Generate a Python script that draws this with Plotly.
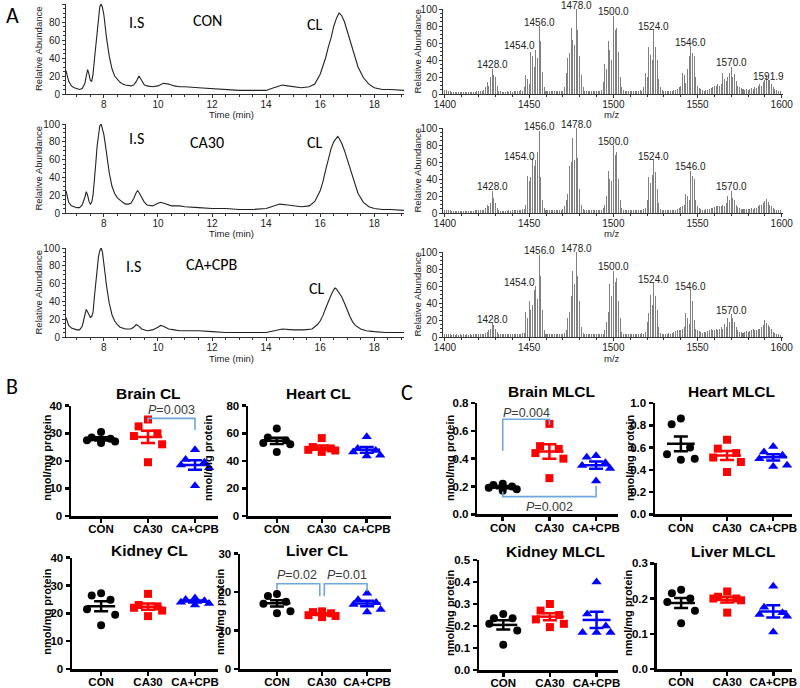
import numpy as np
import plotly.graph_objects as go

# ---------------- DATA ----------------
groups = ["CON", "CA30", "CA+CPB"]

# Chromatograms (time min, relative abundance)
chrom_con = [(6.6, 26), (6.65, 20), (6.7, 14), (6.8, 9), (6.9, 7), (7.0, 6), (7.1, 5), (7.2, 6), (7.3, 12), (7.35, 20),
             (7.4, 27), (7.45, 22), (7.5, 15), (7.55, 14), (7.6, 22), (7.65, 38), (7.7, 55), (7.75, 72), (7.8, 88),
             (7.85, 97), (7.9, 100), (7.95, 96), (8.0, 88), (8.05, 74), (8.1, 62), (8.2, 42), (8.3, 28), (8.4, 20),
             (8.5, 16), (8.6, 13), (8.7, 11), (8.8, 10), (9.0, 9), (9.1, 10), (9.2, 14), (9.3, 20), (9.4, 15), (9.5, 10),
             (9.6, 9), (9.8, 8), (10.0, 9), (10.2, 12), (10.4, 11), (10.6, 9), (10.8, 8), (11.0, 8), (11.5, 7), (12.0, 6),
             (12.5, 5), (13.0, 4), (13.5, 4), (14.0, 4), (14.2, 6), (14.4, 8), (14.6, 10), (14.8, 9), (15.0, 8), (15.3, 7),
             (15.6, 8), (15.8, 11), (16.0, 22), (16.1, 30), (16.2, 40), (16.3, 52), (16.4, 62), (16.5, 75), (16.6, 84),
             (16.7, 90), (16.8, 87), (16.9, 80), (17.0, 70), (17.1, 60), (17.2, 50), (17.3, 40), (17.4, 30), (17.6, 18),
             (17.8, 11), (18.0, 7), (18.3, 5), (18.6, 5), (19.0, 4), (19.1, 4)]
chrom_ca30 = [(6.6, 25), (6.65, 18), (6.7, 12), (6.8, 8), (6.9, 7), (7.0, 6), (7.1, 6), (7.2, 9), (7.3, 18), (7.35, 24),
              (7.4, 20), (7.45, 13), (7.5, 10), (7.55, 12), (7.6, 20), (7.65, 35), (7.7, 55), (7.75, 75), (7.8, 90),
              (7.85, 98), (7.9, 100), (7.95, 95), (8.0, 88), (8.05, 78), (8.1, 65), (8.2, 45), (8.3, 30), (8.4, 22),
              (8.5, 17), (8.6, 14), (8.7, 12), (8.8, 10), (8.9, 10), (9.0, 11), (9.1, 16), (9.2, 23), (9.25, 25),
              (9.3, 23), (9.4, 17), (9.5, 12), (9.6, 9), (9.8, 8), (10.0, 11), (10.1, 12), (10.3, 10), (10.5, 8),
              (10.8, 8), (11.0, 7), (11.5, 6), (12.0, 5), (12.5, 5), (13.0, 4), (13.5, 4), (14.0, 5), (14.2, 7),
              (14.5, 10), (14.8, 9), (15.0, 8), (15.3, 7), (15.6, 8), (15.8, 13), (16.0, 25), (16.1, 35), (16.2, 48),
              (16.3, 60), (16.4, 72), (16.5, 80), (16.6, 85), (16.65, 86), (16.7, 84), (16.8, 78), (16.9, 70), (17.0, 60),
              (17.1, 50), (17.2, 40), (17.3, 30), (17.4, 22), (17.6, 12), (17.8, 7), (18.0, 5), (18.3, 4), (18.6, 4),
              (19.0, 3), (19.1, 3)]
chrom_cpb = [(6.6, 22), (6.65, 18), (6.7, 13), (6.8, 10), (6.9, 9), (7.0, 8), (7.1, 8), (7.2, 12), (7.3, 25), (7.35, 31),
             (7.4, 28), (7.45, 24), (7.5, 22), (7.55, 23), (7.6, 28), (7.65, 45), (7.7, 62), (7.75, 78), (7.8, 90),
             (7.85, 97), (7.9, 100), (7.95, 95), (8.0, 85), (8.05, 70), (8.1, 57), (8.2, 38), (8.3, 25), (8.4, 18),
             (8.5, 14), (8.6, 11), (8.8, 9), (9.0, 9), (9.1, 11), (9.2, 14), (9.3, 12), (9.4, 9), (9.6, 7), (9.8, 8),
             (10.0, 11), (10.1, 13), (10.2, 12), (10.4, 9), (10.6, 8), (10.8, 7), (11.0, 7), (11.5, 7), (12.0, 6),
             (12.5, 5), (13.0, 5), (13.5, 5), (14.0, 5), (14.3, 7), (14.6, 9), (15.0, 8), (15.4, 8), (15.7, 9),
             (15.9, 14), (16.0, 18), (16.1, 24), (16.2, 32), (16.3, 40), (16.4, 47), (16.5, 53), (16.55, 55), (16.6, 54),
             (16.7, 50), (16.8, 45), (16.9, 38), (17.0, 30), (17.1, 23), (17.2, 17), (17.3, 13), (17.5, 9), (17.7, 7),
             (18.0, 6), (18.4, 5), (18.8, 5), (19.1, 5)]

# Mass spectra: m/z 1400..1599, relative abundance
spec_mz = list(range(1400, 1600))
spec_con = [5, 5, 4, 3, 2, 2, 2, 2, 2, 2,   2, 2, 2, 2, 2, 2, 2, 2, 2, 3,
            3, 3, 4, 5, 8, 14, 10, 20, 30, 22,   20, 10, 4, 3, 2, 2, 2, 3, 2, 3,
            2, 3, 3, 4, 4, 5, 4, 8, 22, 18,   12, 50, 45, 32, 52, 42, 80, 62, 26, 8,
            4, 3, 3, 3, 4, 3, 3, 4, 3, 4,   3, 8, 25, 42, 48, 78, 63, 58, 100, 75,
            45, 22, 8, 4, 3, 3, 4, 3, 3, 4,   3, 4, 3, 5, 14, 35, 30, 62, 52, 40,
            92, 75, 78, 50, 20, 8, 5, 4, 4, 3,   4, 3, 4, 3, 4, 3, 5, 4, 8, 25,
            20, 55, 46, 40, 75, 55, 40, 18, 8, 5,   4, 3, 4, 4, 3, 4, 5, 5, 6, 8,
            10, 25, 22, 13, 30, 45, 56, 48, 45, 20,   10, 7, 6, 5, 4, 5, 5, 6, 7, 8,
            9, 10, 12, 10, 12, 25, 18, 15, 20, 25,   32, 20, 23, 15, 10, 8, 7, 6, 5, 6,
            5, 6, 7, 6, 8, 7, 10, 12, 10, 14,   16, 22, 16, 16, 12, 8, 6, 5, 4, 3]
spec_ca30 = [4, 4, 3, 3, 2, 2, 2, 2, 2, 2,   2, 2, 2, 2, 2, 2, 2, 2, 3, 3,
             3, 3, 3, 4, 6, 10, 8, 12, 26, 18,   12, 6, 3, 2, 2, 2, 2, 2, 3, 2,
             3, 3, 3, 3, 4, 4, 5, 5, 10, 44,   38, 42, 65, 55, 62, 72, 97, 42, 15, 6,
             4, 3, 3, 3, 3, 3, 4, 3, 4, 4,   5, 8, 15, 22, 55, 60, 88, 62, 100, 65,
             28, 10, 5, 4, 3, 3, 3, 4, 3, 3,   3, 3, 4, 4, 6, 10, 20, 50, 40, 38,
             80, 68, 72, 40, 15, 6, 4, 3, 3, 3,   3, 3, 3, 3, 4, 3, 4, 4, 5, 6,
             15, 42, 35, 45, 62, 48, 28, 12, 5, 4,   3, 3, 3, 3, 4, 3, 4, 4, 5, 6,
             7, 8, 10, 22, 20, 15, 50, 44, 40, 15,   8, 6, 5, 4, 4, 5, 5, 5, 6, 6,
             7, 8, 8, 8, 8, 10, 8, 12, 20, 15,   26, 18, 15, 10, 7, 6, 5, 5, 5, 5,
             5, 5, 6, 5, 6, 6, 8, 10, 9, 12,   14, 16, 13, 10, 8, 6, 5, 4, 3, 3]
spec_cpb = [3, 3, 3, 3, 2, 3, 2, 3, 2, 3,   2, 3, 2, 3, 2, 3, 2, 3, 3, 3,
            3, 3, 4, 4, 5, 6, 8, 10, 16, 14,   10, 6, 4, 3, 3, 3, 3, 3, 3, 3,
            3, 3, 3, 3, 4, 4, 5, 5, 30, 22,   42, 32, 38, 55, 60, 45, 97, 72, 32, 8,
            4, 3, 3, 3, 3, 4, 3, 3, 4, 4,   4, 5, 8, 22, 30, 48, 78, 62, 100, 72,
            42, 12, 5, 4, 3, 3, 3, 3, 4, 3,   3, 4, 3, 4, 4, 8, 18, 30, 62, 48,
            78, 65, 70, 42, 22, 6, 4, 3, 4, 3,   3, 4, 3, 4, 3, 4, 4, 5, 4, 6,
            18, 28, 50, 38, 63, 48, 32, 12, 5, 4,   3, 4, 4, 5, 4, 5, 6, 7, 8, 8,
            8, 10, 12, 28, 22, 15, 55, 42, 20, 10,   8, 7, 6, 5, 6, 6, 7, 8, 9, 8,
            8, 9, 8, 10, 12, 10, 15, 12, 22, 18,   27, 22, 18, 12, 8, 6, 6, 5, 6, 7,
            6, 7, 8, 9, 8, 8, 10, 9, 12, 14,   20, 17, 14, 12, 9, 6, 5, 4, 3, 2]
peaks_con = [1428.0, 1454.0, 1456.0, 1478.0, 1500.0, 1524.0, 1546.0, 1570.0, 1591.9]
peaks_ca30 = [1428.0, 1454.0, 1456.0, 1478.0, 1500.0, 1524.0, 1546.0, 1570.0]
peaks_cpb = [1428.0, 1454.0, 1456.0, 1478.0, 1500.0, 1524.0, 1546.0, 1570.0]

# Dot plots (nmol/mg protein)
brain_cl_con = [30.5, 28.5, 28.0, 27.5, 27.0, 26.5]
brain_cl_ca30 = [35.0, 32.5, 30.0, 29.0, 26.0, 19.5]
brain_cl_cpb = [24.0, 20.5, 19.5, 18.5, 17.5, 11.0]
heart_cl_con = [63.5, 57.0, 55.0, 53.0, 52.0, 46.5]
heart_cl_ca30 = [56.5, 50.0, 49.0, 48.0, 47.5, 46.5]
heart_cl_cpb = [57.5, 49.0, 47.5, 46.5, 44.0, 43.5]
kidney_cl_con = [27.2, 26.4, 24.9, 21.5, 19.5, 15.7]
kidney_cl_ca30 = [27.0, 23.0, 22.5, 22.0, 21.0, 19.0]
kidney_cl_cpb = [25.5, 25.0, 24.5, 24.0, 23.5, 23.0]
liver_cl_con = [19.5, 19.0, 17.5, 17.0, 15.0, 14.5]
liver_cl_ca30 = [15.0, 14.8, 14.5, 14.0, 13.8, 13.5]
liver_cl_cpb = [19.7, 18.0, 17.3, 16.8, 15.5, 14.8]
brain_mlcl_con = [0.22, 0.21, 0.20, 0.19, 0.18, 0.17]
brain_mlcl_ca30 = [0.65, 0.49, 0.47, 0.44, 0.40, 0.26]
brain_mlcl_cpb = [0.42, 0.41, 0.37, 0.35, 0.33, 0.24]
heart_mlcl_con = [0.86, 0.81, 0.60, 0.54, 0.50, 0.49]
heart_mlcl_ca30 = [0.67, 0.59, 0.55, 0.51, 0.47, 0.38]
heart_mlcl_cpb = [0.61, 0.56, 0.53, 0.50, 0.44, 0.43]
kidney_mlcl_con = [0.255, 0.235, 0.235, 0.21, 0.18, 0.115]
kidney_mlcl_ca30 = [0.30, 0.27, 0.25, 0.23, 0.21, 0.195]
kidney_mlcl_cpb = [0.40, 0.255, 0.20, 0.17, 0.17, 0.17]
liver_mlcl_con = [0.225, 0.215, 0.20, 0.19, 0.165, 0.13]
liver_mlcl_ca30 = [0.22, 0.205, 0.20, 0.20, 0.195, 0.16]
liver_mlcl_cpb = [0.235, 0.175, 0.16, 0.155, 0.15, 0.105]

# ---------------- STYLE / LAYOUT ----------------
W, H = 800, 688
FONT = "Arial, Liberation Sans, sans-serif"
CAL = "Carlito, Lato, Open Sans, sans-serif"
GCOL = ["black", "#ff0000", "#0000ff"]
GSYM = ["circle", "square", "triangle-up"]
GSIZE = [8, 8, 9]
JITTER = [0.0, -0.2, 0.2, -0.3, 0.3, 0.0]
BRACKET = "#6fa8dc"

def xd(l, r):
    return [l / W, r / W]

def yd(t, b):
    return [1 - b / H, 1 - t / H]

fig = go.Figure()
layout = dict(width=W, height=H, margin=dict(l=0, r=0, t=0, b=0, autoexpand=False), paper_bgcolor="white",
              plot_bgcolor="white", showlegend=False, bargap=0)
annotations = []

def ann_px(x, y, text, size, family=FONT, color="black", bold=False, angle=0):
    annotations.append(dict(x=x / W, y=1 - y / H, xref="paper", yref="paper", text=text, showarrow=False,
                            xanchor="center", yanchor="middle", textangle=angle,
                            font=dict(size=size, family=family, color=color,
                                      weight="bold" if bold else "normal")))

counter = [0]

def new_axes(xdom, ydom, xcfg, ycfg):
    counter[0] += 1
    n = counter[0]
    sx = "" if n == 1 else str(n)
    layout["xaxis" + sx] = dict(domain=xdom, anchor="y" + sx, showgrid=False, zeroline=False, automargin=False,
                                **xcfg)
    layout["yaxis" + sx] = dict(domain=ydom, anchor="x" + sx, showgrid=False, zeroline=False, automargin=False,
                                **ycfg)
    return "x" + sx, "y" + sx

thin_tick = dict(family=FONT, size=10, color="#222")

# ---- chromatograms ----
chrom_sets = [(chrom_con, (4, 94)), (chrom_ca30, (124, 213)), (chrom_cpb, (248, 337))]
chrom_text = [
    [("I.S", 9.2, 79), ("CON", 11.85, 82), ("CL", 15.8, 77)],
    [("I.S", 9.2, 84), ("CA30", 11.8, 79), ("CL", 15.8, 79)],
    [("I.S", 9.1, 79), ("CA+CPB", 12.0, 81), ("CL", 15.9, 55)],
]
for k, (data, (top, bot)) in enumerate(chrom_sets):
    xcfg = dict(range=[6.6, 19.1], tickvals=[8, 10, 12, 14, 16, 18], showline=True, linecolor="#333", linewidth=1,
                ticks="outside", ticklen=3, tickcolor="#333", tickfont=thin_tick, ticklabelstandoff=-2,
                minor=dict(dtick=0.5, tick0=6.5, ticks="outside", ticklen=2, tickcolor="#333"))
    ycfg = dict(range=[0, 100], tickvals=[0, 20, 40, 60, 80, 100], showline=True, linecolor="#333", linewidth=1,
                ticks="outside", ticklen=3, tickcolor="#333", tickfont=thin_tick,
                minor=dict(dtick=5, ticks="outside", ticklen=2, tickcolor="#333"))
    xa, ya = new_axes(xd(66, 404), yd(top, bot), xcfg, ycfg)
    t = [p[0] for p in data]
    a = [p[1] for p in data]
    fig.add_trace(go.Scatter(x=t, y=a, mode="lines", line=dict(color="#222", width=1.1), xaxis=xa, yaxis=ya,
                             cliponaxis=False))
    for txt, tx, ty in chrom_text[k]:
        annotations.append(dict(x=tx, y=ty, xref=xa, yref=ya, text=txt, showarrow=False,
                                font=dict(family=CAL, size=16, color="black")))
    ann_px(38, (top + bot) / 2, "Relative Abundance", 9.5, color="#222", angle=-90)
    ann_px(232, bot + 21, "Time (min)", 9.5, color="#222")

# ---- spectra ----
spec_sets = [(spec_con, peaks_con, (9, 94)), (spec_ca30, peaks_ca30, (128, 213)), (spec_cpb, peaks_cpb, (252, 337))]
for spec, peaks, (top, bot) in spec_sets:
    xcfg = dict(range=[1399, 1601], tickvals=[1400, 1450, 1500, 1550, 1600], showline=True, linecolor="#333",
                linewidth=1, ticks="outside", ticklen=3, tickcolor="#333", tickfont=thin_tick, ticklabelstandoff=-2,
                minor=dict(dtick=10, tick0=1400, ticks="outside", ticklen=2, tickcolor="#333"))
    ycfg = dict(range=[0, 100], tickvals=[0, 20, 40, 60, 80, 100], showline=True, linecolor="#333", linewidth=1,
                ticks="outside", ticklen=3, tickcolor="#333", tickfont=thin_tick,
                minor=dict(dtick=5, ticks="outside", ticklen=2, tickcolor="#333"))
    xa, ya = new_axes(xd(443.3, 783.4), yd(top, bot), xcfg, ycfg)
    fig.add_trace(go.Bar(x=spec_mz, y=spec, width=0.6, marker=dict(color="#808080", line=dict(width=0)),
                         xaxis=xa, yaxis=ya))
    for pk in peaks:
        h = spec[spec_mz.index(int(round(pk)))]
        right = abs(pk - 1454.0) < 1e-6
        annotations.append(dict(x=pk + (0.5 if right else 0), y=h, xref=xa, yref=ya, text=f"{pk:.1f}",
                                showarrow=False, yanchor="middle", yshift=4,
                                xanchor="right" if right else "center",
                                font=dict(family=FONT, size=10, color="#222")))
    ann_px(417, (top + bot) / 2, "Relative Abundance", 9.5, color="#222", angle=-90)
    ann_px(612, bot + 21, "m/z", 9.5, color="#222")

# ---- dot plots ----
def dot_panel(series, xdom_px, ydom_px, xrange, ymax, dtick, fmt, title, title_px, ytitle_px, brackets=()):
    xcfg = dict(range=xrange, tickvals=[0, 1, 2], ticktext=groups, showline=True, linecolor="black",
                linewidth=2.5, ticks="outside", ticklen=4, tickwidth=2.5, tickcolor="black", ticklabelstandoff=-3,
                tickfont=dict(family=FONT, size=11.5, color="black", weight="bold"))
    ycfg = dict(range=[0, ymax], dtick=dtick, tick0=0, tickformat=fmt, showline=True, linecolor="black",
                linewidth=2.5, ticks="outside", ticklen=4, tickwidth=2.5, tickcolor="black",
                tickfont=dict(family=FONT, size=11.5, color="black", weight="bold"))
    xa, ya = new_axes(xd(*xdom_px), yd(*ydom_px), xcfg, ycfg)
    for gi, vals in enumerate(series):
        xs = [gi + JITTER[j % len(JITTER)] for j in range(len(vals))]
        fig.add_trace(go.Scatter(x=xs, y=vals, mode="markers", xaxis=xa, yaxis=ya, cliponaxis=False,
                                 marker=dict(symbol=GSYM[gi], size=GSIZE[gi], color=GCOL[gi],
                                             line=dict(width=0))))
        m = float(np.mean(vals))
        sem = float(np.std(vals, ddof=1) / np.sqrt(len(vals)))
        fig.add_trace(go.Scatter(x=[gi - 0.3, gi + 0.3], y=[m, m], mode="lines", xaxis=xa, yaxis=ya,
                                 line=dict(color=GCOL[gi], width=2.5), cliponaxis=False))
        fig.add_trace(go.Scatter(x=[gi], y=[m], mode="markers", xaxis=xa, yaxis=ya, marker=dict(size=1, opacity=0),
                                 error_y=dict(type="data", array=[sem], visible=True, width=7, thickness=2.5,
                                              color=GCOL[gi])))
    for pts, label, lx, ly in brackets:
        fig.add_trace(go.Scatter(x=[p[0] for p in pts], y=[p[1] for p in pts], mode="lines", xaxis=xa, yaxis=ya,
                                 line=dict(color=BRACKET, width=1.6), cliponaxis=False))
        annotations.append(dict(x=lx, y=ly, xref=xa, yref=ya, text="<i>P</i>=" + label, showarrow=False,
                                font=dict(family=FONT, size=12.5, color="#3a3a3a")))
    ann_px(title_px[0], title_px[1], title, 15.5, bold=True)
    ann_px(ytitle_px[0], ytitle_px[1], "nmol/mg protein", 11, bold=True, angle=-90)

dot_panel([brain_cl_con, brain_cl_ca30, brain_cl_cpb], (71, 218), (405.7, 516), [-0.64, 2.49], 40, 10, "d",
          "Brain CL", (148, 393), (46.7, 458),
          brackets=[([(1, 34.2), (1, 35.4), (2, 35.4), (2, 31.2)], "0.003", 1.5, 38.4)])
dot_panel([heart_cl_con, heart_cl_ca30, heart_cl_cpb], (248, 391), (405.7, 516), [-0.64, 2.54], 80, 20, "d",
          "Heart CL", (318, 393), (208, 458))
dot_panel([kidney_cl_con, kidney_cl_ca30, kidney_cl_cpb], (72, 218), (557.7, 669), [-0.62, 2.49], 40, 10, "d",
          "Kidney CL", (149, 550), (46.7, 612))
dot_panel([liver_cl_con, liver_cl_ca30, liver_cl_cpb], (240, 391), (553.7, 669), [-0.82, 2.53], 30, 10, "d",
          "Liver CL", (317, 550), (220, 612),
          brackets=[([(0, 20.6), (0, 22.2), (0.95, 22.2), (0.95, 18.9)], "0.02", 0.45, 24.5),
                    ([(1.05, 18.9), (1.05, 22.2), (2, 22.2), (2, 20.2)], "0.01", 1.55, 24.5)])
dot_panel([brain_mlcl_con, brain_mlcl_ca30, brain_mlcl_cpb], (477.3, 618), (403, 514.3), [-0.545, 2.47], 0.8, 0.2,
          ".1f", "Brain MLCL", (551.7, 391.7), (450, 458),
          brackets=[([(0, 0.457), (0, 0.683), (1, 0.683), (1, 0.642)], "0.004", 0.5, 0.73),
                    ([(0, 0.163), (0, 0.127), (2, 0.127), (2, 0.204)], "0.002", 1.0, 0.055)])
dot_panel([heart_mlcl_con, heart_mlcl_ca30, heart_mlcl_cpb], (655, 791.7), (403, 514.3), [-0.56, 2.40], 1.0, 0.2,
          ".1f", "Heart MLCL", (731.7, 391.7), (630, 458))
dot_panel([kidney_mlcl_con, kidney_mlcl_ca30, kidney_mlcl_cpb], (479, 618), (560, 670), [-0.52, 2.46], 0.5, 0.1,
          ".1f", "Kidney MLCL", (555, 551.7), (450, 613))
dot_panel([liver_mlcl_con, liver_mlcl_ca30, liver_mlcl_cpb], (656.7, 791.7), (563.3, 669), [-0.53, 2.40], 0.3, 0.1,
          ".1f", "Liver MLCL", (733, 551.7), (628, 613))

# panel letters
ann_px(12, 15, "A", 22, family=CAL)
ann_px(12, 386, "B", 22, family=CAL)
ann_px(407, 392, "C", 22, family=CAL)

layout["annotations"] = annotations
fig.update_layout(**layout)
fig.write_html("out.html", config={"displayModeBar": False, "staticPlot": True},
               post_script="document.body.style.margin='0px';document.body.style.overflow='hidden';")
